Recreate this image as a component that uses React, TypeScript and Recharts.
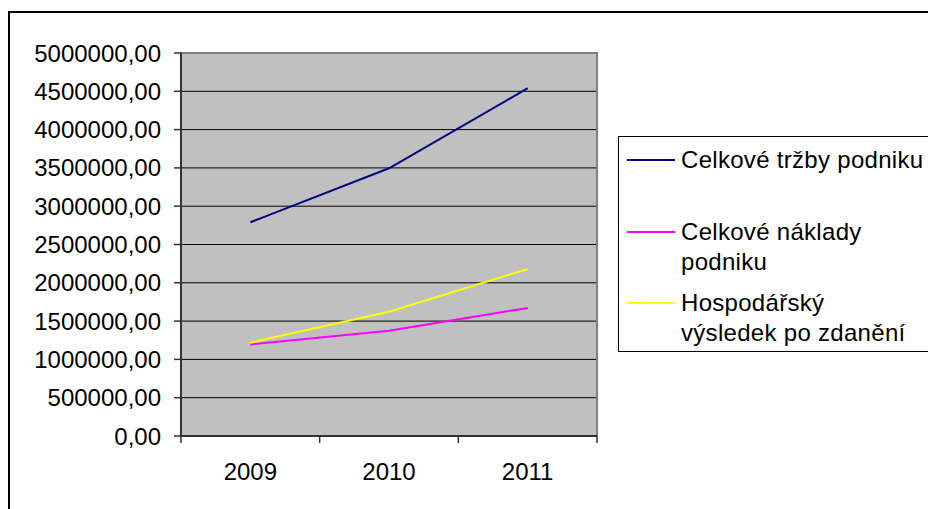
import React from 'react';
import { LineChart, Line, XAxis, YAxis, CartesianGrid, Legend, ReferenceArea } from 'recharts';

// Years on the category axis
const years = ['2009', '2010', '2011'];

// Series values (Kč)
const trzby = [2790000, 3495000, 4540000];
const naklady = [1195000, 1375000, 1671000];
const vysledek = [1218000, 1623000, 2180000];

// Value axis ticks
const yTicks = [0, 500000, 1000000, 1500000, 2000000, 2500000, 3000000, 3500000, 4000000, 4500000, 5000000];

const seriesNames = ['Celkové tržby podniku', 'Celkové náklady podniku', 'Hospodářský výsledek po zdanění'];
const legendLines: Record<string, string[]> = {
  'Celkové tržby podniku': ['Celkové tržby podniku'],
  'Celkové náklady podniku': ['Celkové náklady', 'podniku'],
  'Hospodářský výsledek po zdanění': ['Hospodářský', 'výsledek po zdanění'],
};
const seriesColors = ['#000080', '#FF00FF', '#FFFF00'];

const data = years.map((year, i) => ({
  year,
  trzby: trzby[i],
  naklady: naklady[i],
  vysledek: vysledek[i],
}));

const FONT = '"Liberation Sans", Arial, sans-serif';
const FONT_SIZE = 24;
const AXIS_COLOR = '#333333';
const X_TICK = 7;
const X_MARGIN = 20;

const formatValue = (v: number) => v.toFixed(2).replace('.', ',');

// Category tick: label in the middle of the band, tick marks on band edges
function YearTick(props: any) {
  const { x, y, payload, index } = props;
  const half = (payload && payload.offset) || 69.33;
  const axisY = y - X_TICK - X_MARGIN;
  return (
    <g>
      <line x1={x - half} x2={x - half} y1={axisY} y2={axisY + X_TICK} stroke={AXIS_COLOR} strokeWidth={1.5} />
      {index === years.length - 1 && (
        <line x1={x + half} x2={x + half} y1={axisY} y2={axisY + X_TICK} stroke={AXIS_COLOR} strokeWidth={1.5} />
      )}
      <text x={x} y={y} dy="0.71em" textAnchor="middle" fontSize={FONT_SIZE} fontFamily={FONT} fill="#000">
        {payload.value}
      </text>
    </g>
  );
}

// Boxed legend with a line sample in front of each (possibly wrapped) label
function BoxLegend(props: any) {
  const payload = [...(props.payload || [])].sort(
    (a: any, b: any) => seriesNames.indexOf(a.value) - seriesNames.indexOf(b.value)
  );
  const tops = [9, 81, 152];
  return (
    <div
      style={{
        position: 'relative',
        width: 340,
        height: 216,
        boxSizing: 'border-box',
        border: '1px solid #000',
        background: '#fff',
        fontFamily: FONT,
        fontSize: FONT_SIZE,
        color: '#000',
      }}
    >
      {payload.map((entry: any, i: number) => (
        <div key={entry.value} style={{ position: 'absolute', left: 0, top: tops[i] - 1, width: 320 }}>
          <div
            style={{
              position: 'absolute',
              left: 8,
              top: 14,
              width: 48,
              height: 2,
              background: entry.color,
            }}
          />
          <div style={{ position: 'absolute', left: 62, top: 0, lineHeight: '30px', whiteSpace: 'nowrap', letterSpacing: 0.3 }}>
            {(legendLines[entry.value] || [entry.value]).map((line) => (
              <div key={line}>{line}</div>
            ))}
          </div>
        </div>
      ))}
    </div>
  );
}

export default function App() {
  return (
    <>
      <style>{'html, body { overflow: hidden; }'}</style>
      <div
        style={{
          position: 'fixed',
          left: 8,
          top: 8,
          width: 920,
          height: 501,
          overflow: 'hidden',
          fontFamily: FONT,
          background: '#fff',
        }}
      >
        <div
          style={{
            position: 'absolute',
            left: 0,
            top: 3,
            width: 1000,
            height: 1000,
            border: '2px solid #000',
            boxSizing: 'border-box',
          }}
        />
        <div style={{ position: 'absolute', left: 0, top: 0 }}>
          <LineChart
            width={960}
            height={493}
            data={data}
            margin={{ top: 45, right: 371, bottom: 25, left: 0 }}
            style={{ fontFamily: FONT }}
          >
            <CartesianGrid vertical={false} stroke="#000" strokeWidth={1} fill="#C0C0C0" fillOpacity={1} />
            <ReferenceArea y1={0} y2={5000000} fill="none" stroke="#808080" strokeWidth={2} ifOverflow="visible" />
            <XAxis
              dataKey="year"
              scale="band"
              height={40}
              tickLine={false}
              tickSize={X_TICK}
              tickMargin={X_MARGIN}
              axisLine={{ stroke: AXIS_COLOR, strokeWidth: 2 }}
              tick={<YearTick />}
              interval={0}
            />
            <YAxis
              width={173}
              domain={[0, 5000000]}
              ticks={yTicks}
              interval={0}
              tickFormatter={formatValue}
              tickSize={7}
              tickMargin={13}
              axisLine={{ stroke: AXIS_COLOR, strokeWidth: 2 }}
              tickLine={{ stroke: AXIS_COLOR, strokeWidth: 1.5 }}
              tick={{ fontSize: FONT_SIZE, fill: '#000', fontFamily: FONT }}
            />
            <Legend
              layout="horizontal"
              align="center"
              verticalAlign="middle"
              wrapperStyle={{ position: 'absolute', left: 610, top: 128, width: 340, height: 216 }}
              content={<BoxLegend />}
            />
            <Line type="linear" dataKey="trzby" name={seriesNames[0]} stroke={seriesColors[0]} strokeWidth={2} dot={false} isAnimationActive={false} />
            <Line type="linear" dataKey="naklady" name={seriesNames[1]} stroke={seriesColors[1]} strokeWidth={2} dot={false} isAnimationActive={false} />
            <Line type="linear" dataKey="vysledek" name={seriesNames[2]} stroke={seriesColors[2]} strokeWidth={2} dot={false} isAnimationActive={false} />
          </LineChart>
        </div>
      </div>
    </>
  );
}
